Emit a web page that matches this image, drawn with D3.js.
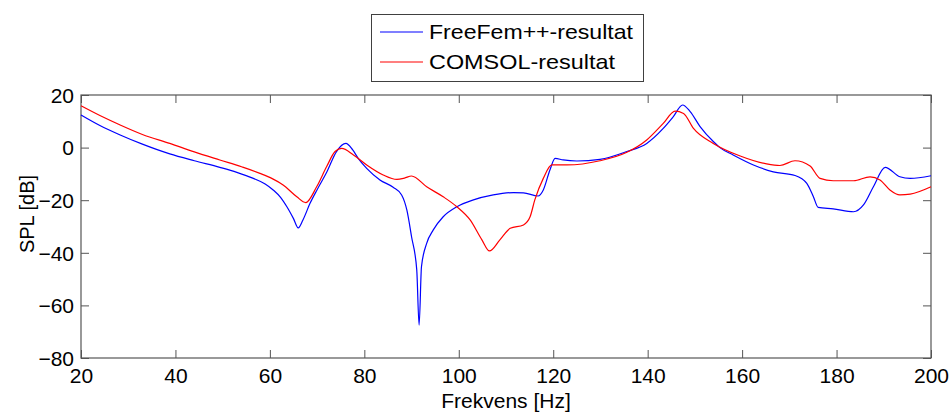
<!DOCTYPE html>
<html>
<head>
  <meta charset="utf-8">
  <style>
    body { margin: 0; background: #fff; }
    svg text { font-family: "Liberation Sans", Arial, sans-serif; fill: #000; }
  </style>
  <script src="https://d3js.org/d3.v7.min.js"></script>
</head>
<body>
  <div id="chart"></div>
  <script>
    // FreeFem++ result (blue)
    const freefemFreq = [20, 24, 28.3, 33, 38.8, 44, 49.4, 53, 56.5, 59, 60.7, 62.3, 63.6, 65, 66, 67, 68.5, 70, 72, 74.1, 76.1, 77.5, 78.7, 80.5, 83.3, 86.1, 87.9, 89, 90, 91.1, 91.6, 92.1, 93.2, 94.6, 96.7, 99.6, 103.1, 107.3, 111.6, 113.7, 116.8, 117.9, 119.3, 120.4, 122.1, 125, 129.9, 135.6, 139.8, 143.3, 145.4, 147.4, 149, 151.1, 153.9, 155.3, 158.1, 162.4, 166.6, 171.2, 173.7, 175.1, 176.1, 179.3, 183.6, 185.7, 187.8, 190.3, 193.4, 195.6, 200];
    const freefemSpl = [12.4, 8.4, 4.8, 1.3, -2.4, -5, -7.5, -9.4, -11.7, -13.8, -16.1, -19, -22.5, -27, -30.5, -27.5, -21.2, -16, -9.5, -1.5, 1.6, -0.8, -4.1, -7.9, -12.3, -15.1, -18, -23.7, -33.9, -46.5, -67.5, -45.3, -36.4, -31.3, -26.3, -22.5, -19.9, -18, -17.1, -17.2, -18.4, -16.1, -8.5, -4.1, -4.7, -5.1, -4.5, -1.5, 1.6, 7.3, 11.7, 16.2, 13.7, 8, 2.3, 0, -2.8, -6.6, -9.2, -10.6, -13.6, -18.7, -22.7, -23.3, -24.4, -21.8, -14.9, -7.5, -11.1, -11.7, -10.7];

    // COMSOL result (red)
    const comsolFreq = [20, 24, 28.3, 33, 38.8, 44, 49.4, 54, 57.9, 60.5, 62.8, 65.7, 67.6, 69.9, 72, 73.8, 75.2, 77.7, 80.5, 84, 86.9, 88.5, 90, 93.2, 96.7, 99.6, 102.4, 104.9, 106.5, 108.7, 110.9, 113.7, 115.1, 116.1, 117.9, 119.7, 122.9, 129.9, 135.6, 139.8, 143.3, 145.8, 147.6, 149.7, 153.9, 159.6, 165.2, 168, 171.2, 174.4, 176.5, 179.3, 183.6, 187.1, 189.2, 191.3, 193.4, 195.6, 200];
    const comsolSpl = [15.9, 12.2, 8.6, 5, 1.6, -1.6, -4.7, -7.3, -9.8, -11.8, -14.2, -18.7, -20.9, -14.9, -7.3, -1.5, -0.3, -2.8, -6.6, -10.4, -12.1, -11.6, -10.8, -14.9, -18.7, -22.5, -27.5, -35.1, -39.3, -35.1, -30.7, -29.4, -26.3, -19.9, -11.7, -6.6, -6.6, -5, -1.8, 2.9, 9.2, 13.9, 13, 7.3, 1.6, -3.2, -6.2, -6.8, -5, -7, -11.7, -12.6, -12.6, -11.1, -12.3, -16.1, -18, -17.7, -14.9];

    const seriesNames = ["FreeFem++-resultat", "COMSOL-resultat"];
    const seriesColors = ["#0000ff", "#ff0000"];
    const xTicks = [20, 40, 60, 80, 100, 120, 140, 160, 180, 200];
    const yTicks = [20, 0, -20, -40, -60, -80];

    const W = 952, H = 412;
    const margin = { top: 95, right: 21, bottom: 54, left: 81 };
    const width = W - margin.left - margin.right,
          height = H - margin.top - margin.bottom;

    const svg = d3.select("#chart").append("svg")
      .attr("width", W)
      .attr("height", H);

    const g = svg.append("g")
      .attr("transform", `translate(${margin.left},${margin.top})`);

    const x = d3.scaleLinear().domain([20, 200]).range([0, width]);
    const y = d3.scaleLinear().domain([-80, 20]).range([height, 0]);

    const axisColor = "#555";

    function styleAxis(sel, keepText) {
      sel.select(".domain").remove();
      sel.selectAll("line").attr("stroke", axisColor);
      if (!keepText) sel.selectAll("text").remove();
      sel.selectAll("text")
        .style("font-size", "21px")
        .attr("fill", "#000");
    }

    // bottom + left with labels, ticks pointing inwards
    g.append("g")
      .attr("transform", `translate(0,${height})`)
      .call(d3.axisBottom(x).tickValues(xTicks).tickSize(-8))
      .call(s => styleAxis(s, true))
      .call(s => s.selectAll("text").attr("y", 25).attr("dy", 0));

    g.append("g")
      .call(d3.axisLeft(y).tickValues(yTicks).tickSize(-8))
      .call(s => styleAxis(s, true))
      .call(s => s.selectAll("text").attr("x", -7).attr("dy", "0.35em"));

    g.append("g")
      .call(d3.axisTop(x).tickValues(xTicks).tickSize(-8))
      .call(s => styleAxis(s, false));

    g.append("g")
      .attr("transform", `translate(${width},0)`)
      .call(d3.axisRight(y).tickValues(yTicks).tickSize(-8))
      .call(s => styleAxis(s, false));

    g.append("rect")
      .attr("x", 0).attr("y", 0)
      .attr("width", width).attr("height", height)
      .attr("fill", "none")
      .attr("stroke", axisColor)
      .attr("stroke-width", 1.2);

    const line = d3.line()
      .x(d => x(d[0]))
      .y(d => y(d[1]))
      .curve(d3.curveMonotoneX);

    const series = [
      d3.zip(freefemFreq, freefemSpl),
      d3.zip(comsolFreq, comsolSpl)
    ];

    [0, 1].forEach(i => {
      g.append("path")
        .datum(series[i])
        .attr("fill", "none")
        .attr("stroke", seriesColors[i])
        .attr("stroke-width", 1.2)
        .attr("d", line);
    });

    // axis labels
    svg.append("text")
      .attr("x", margin.left + width / 2)
      .attr("y", 408)
      .attr("text-anchor", "middle")
      .style("font-size", "21px")
      .text("Frekvens [Hz]");

    svg.append("text")
      .attr("transform", "translate(34,214) rotate(-90)")
      .attr("text-anchor", "middle")
      .style("font-size", "20px")
      .text("SPL [dB]");

    // legend
    const legend = svg.append("g");
    legend.append("rect")
      .attr("x", 371.5).attr("y", 14.5)
      .attr("width", 272).attr("height", 67)
      .attr("fill", "#fff")
      .attr("stroke", "#404040")
      .attr("stroke-width", 1);

    const legendTextWidth = [204, 186];
    seriesNames.forEach((name, i) => {
      const ly = 32 + i * 30;
      legend.append("line")
        .attr("x1", 380).attr("x2", 423)
        .attr("y1", ly).attr("y2", ly)
        .attr("stroke", seriesColors[i])
        .attr("stroke-width", 1.2);
      legend.append("text")
        .attr("x", 429)
        .attr("y", ly + 7)
        .attr("textLength", legendTextWidth[i])
        .attr("lengthAdjust", "spacingAndGlyphs")
        .style("font-size", "21px")
        .text(name);
    });
  </script>
</body>
</html>
